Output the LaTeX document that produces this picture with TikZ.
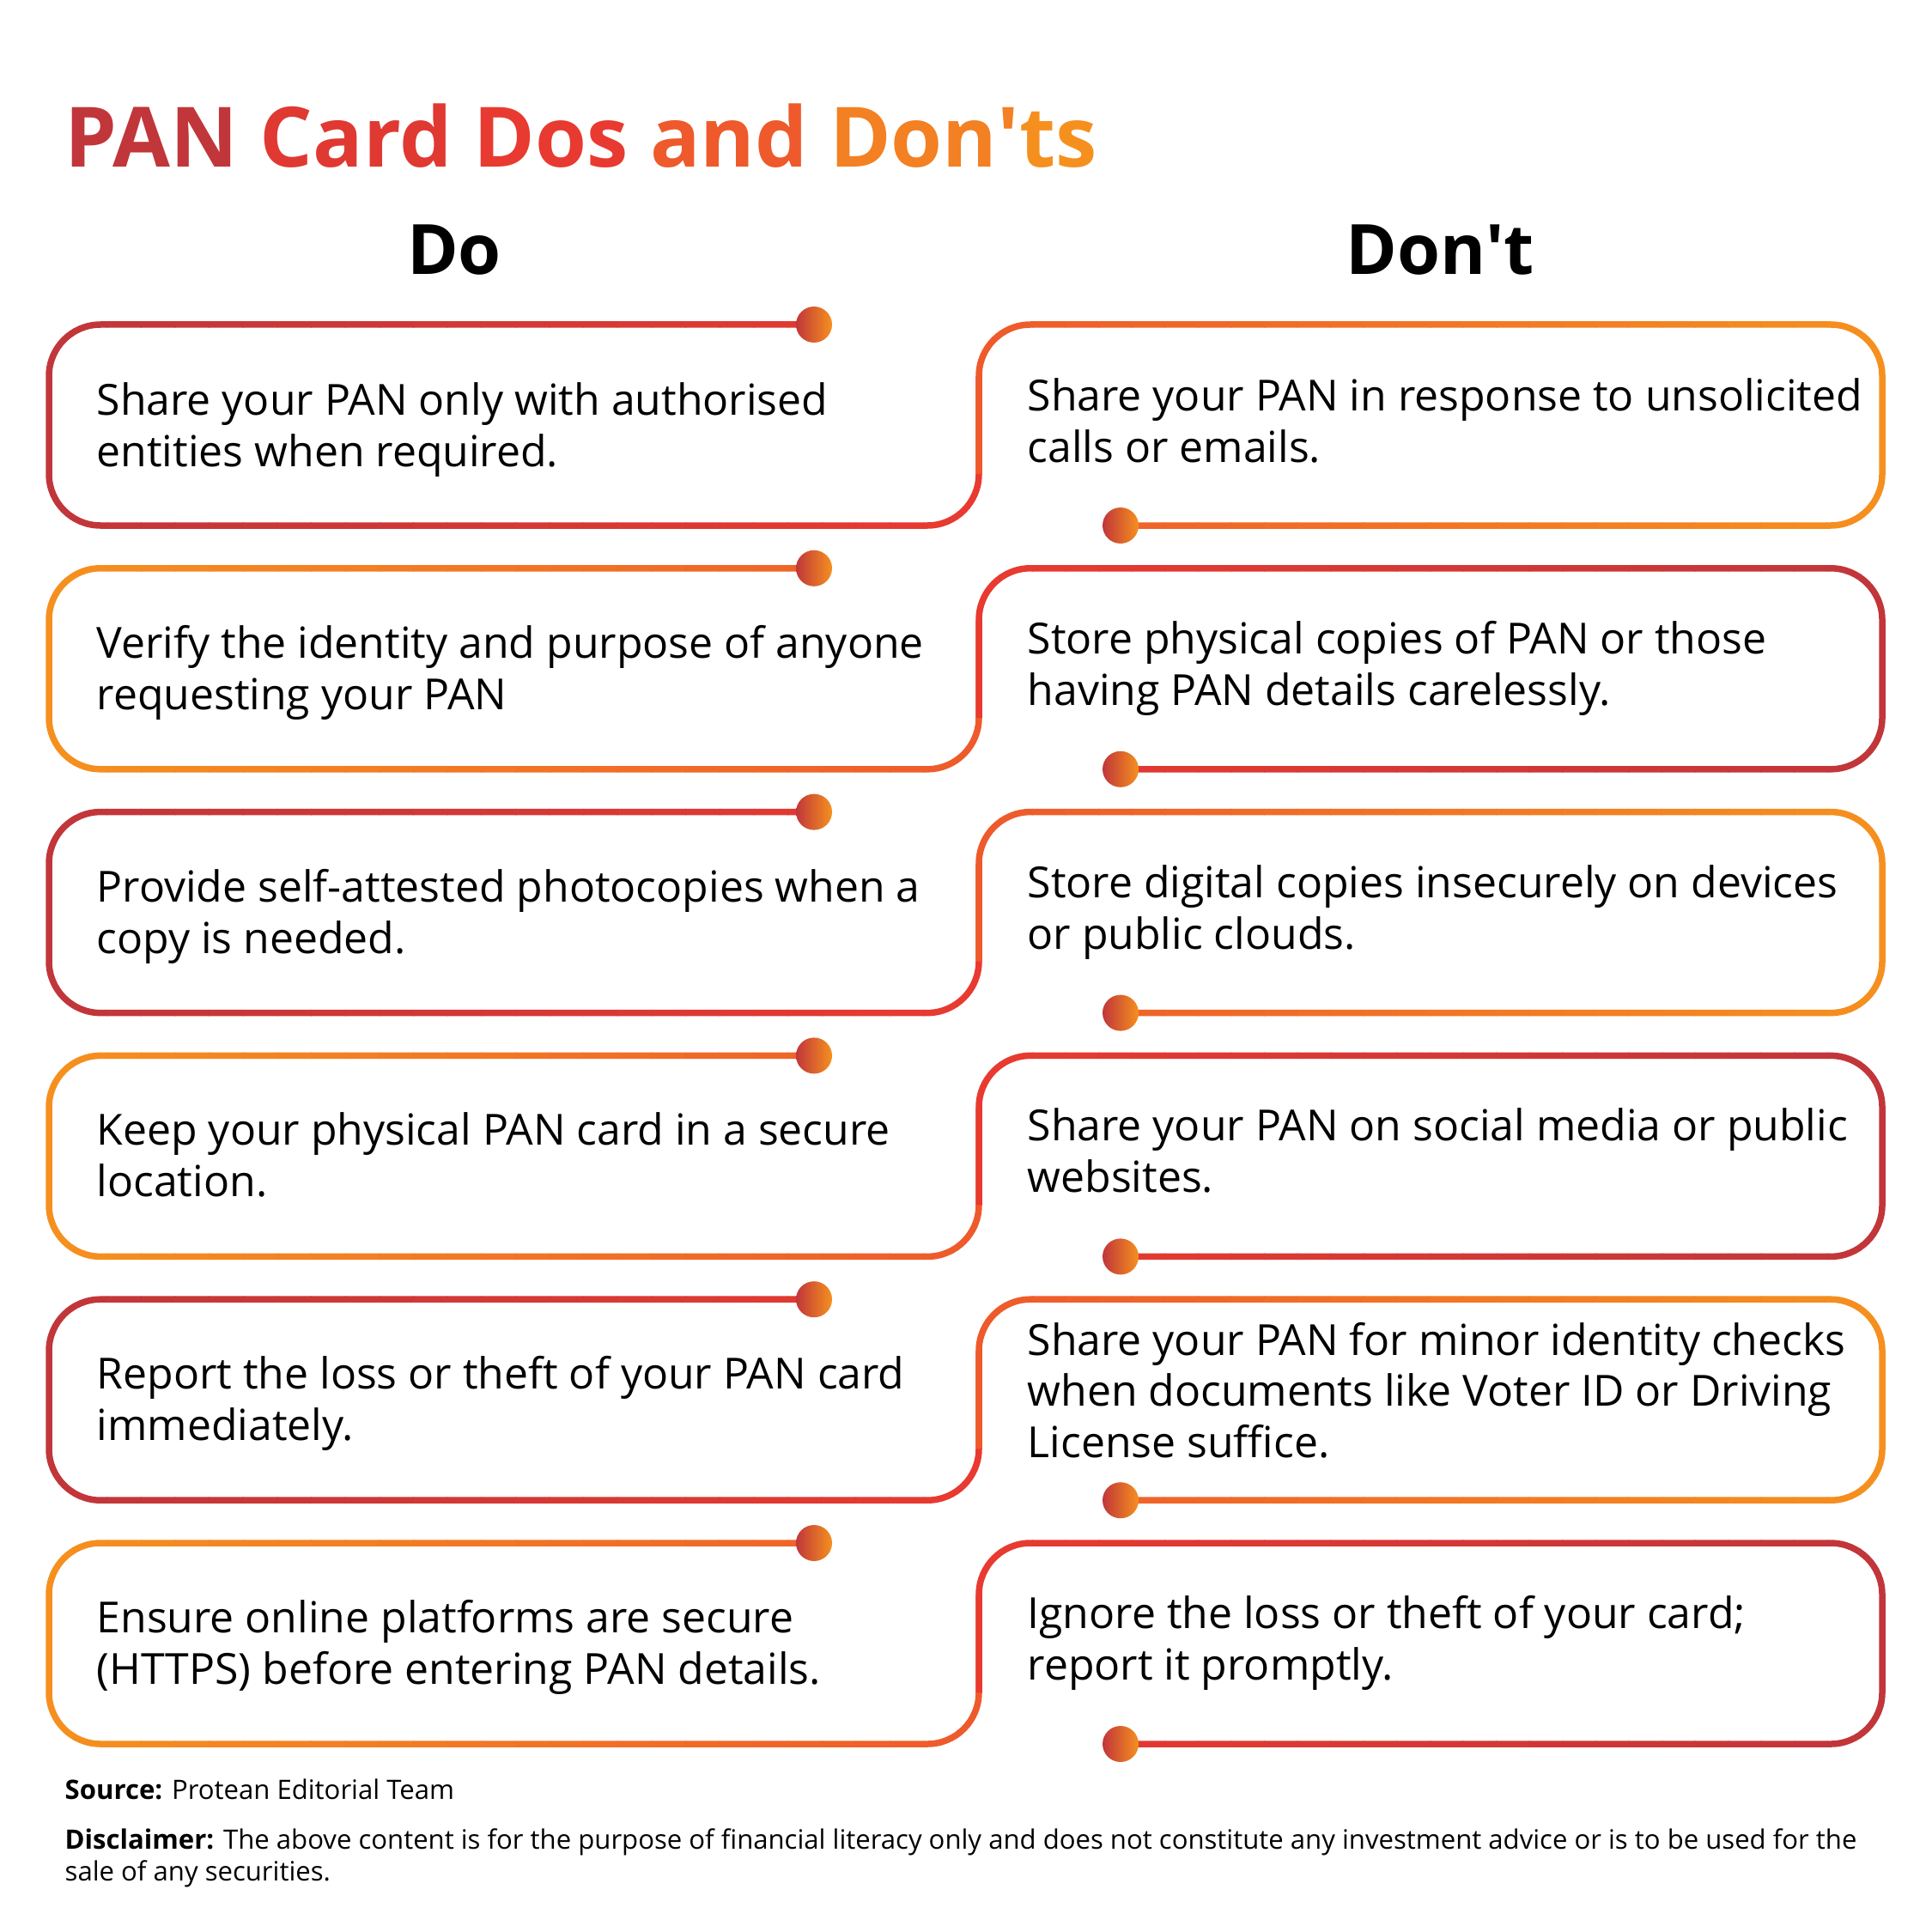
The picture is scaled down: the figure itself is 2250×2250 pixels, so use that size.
\documentclass[tikz,border=0pt]{standalone}
\usepackage{fontspec}
\setmainfont{Open Sans}
\definecolor{dred}{HTML}{C1363A}
\definecolor{red}{HTML}{E83A30}
\definecolor{ored}{HTML}{EE5A2B}
\definecolor{orng}{HTML}{F5901F}
\newcommand\gbox[5]{%
 \foreach \i in {0,...,27}{%
  \pgfmathsetmacro\p{100/27*\i}%
  \pgfmathsetmacro\xa{#1+(#2-#1)/28*\i}%
  \pgfmathsetmacro\xb{#1+(#2-#1)/28*(\i+1)+1}%
  \begin{scope}\clip (\xa,0) rectangle (\xb,2250);
   \draw[line width=.75mm,color=#4!\p!#3,rounded corners=6mm] #5;
  \end{scope}}}
\tikzset{btxt/.style={anchor=base west,align=left,font=\fontsize{14.2}{16.8}\selectfont,inner sep=0pt},
 foot/.style={anchor=base west,align=left,font=\fontsize{8.85}{10.5}\selectfont,inner sep=0pt}}
\begin{document}
\begin{tikzpicture}[x=0.1mm,y=-0.1mm]
\useasboundingbox (0,0) rectangle (2250,2250);
\node[anchor=base west,inner sep=0pt,font=\bfseries\fontsize{27.6}{30}\selectfont] (title) at (75,195)
 {\textcolor{dred}{PAN} \textcolor{red!80!dred}{Card} \textcolor{red}{Dos} \textcolor{ored}{and} \textcolor{orng!70!ored}{Don\textquotesingle}\textcolor{orng}{ts}};
\node[anchor=base,inner sep=0pt,font=\bfseries\fontsize{23}{23}\selectfont] (do) at (529,320) {Do};
\node[anchor=base,inner sep=0pt,font=\bfseries\fontsize{23}{23}\selectfont] (dont) at (1677,320) {Don\textquotesingle t};
\foreach \k in {0,...,5}{%
 \pgfmathsetmacro\T{378+283.8*\k}\pgfmathsetmacro\B{\T+234}\pgfmathsetmacro\Br{\B-60}\pgfmathsetmacro\Tr{\T+60}%
 \ifodd\k
  \gbox{45}{1155}{orng}{ored}{(948,\T) -- (57,\T) -- (57,\B) -- (1140,\B) -- (1140,\Tr)}
  \gbox{1125}{2205}{red}{dred}{(1299,\B) -- (2192,\B) -- (2192,\T) -- (1140,\T) -- (1140,\Br)}
 \else
  \gbox{45}{1155}{dred}{red}{(948,\T) -- (57,\T) -- (57,\B) -- (1140,\B) -- (1140,\Tr)}
  \gbox{1125}{2205}{ored}{orng}{(1299,\B) -- (2192,\B) -- (2192,\T) -- (1140,\T) -- (1140,\Br)}
 \fi
 \shade[left color=dred,right color=orng] (948,\T) circle[radius=2.1mm];
 \shade[left color=dred,right color=orng] (1305,\B) circle[radius=2.1mm];
}
\node[btxt] (l1) at (112,543) {Share your PAN only with authorised\\entities when required.};
\node[btxt] (l2) at (112,826) {Verify the identity and purpose of anyone\\requesting your PAN};
\node[btxt] (l3) at (112,1110) {Provide self-attested photocopies when a\\copy is needed.};
\node[btxt] (l4) at (112,1393) {Keep your physical PAN card in a secure\\location.};
\node[btxt] (l5) at (112,1677) {Report the loss or theft of your PAN card\\immediately.};
\node[btxt] (l6) at (112,1961) {Ensure online platforms are secure\\(HTTPS) before entering PAN details.};
\node[btxt] (r1) at (1196,538) {Share your PAN in response to unsolicited\\calls or emails.};
\node[btxt] (r2) at (1196,821) {Store physical copies of PAN or those\\having PAN details carelessly.};
\node[btxt] (r3) at (1196,1105) {Store digital copies insecurely on devices\\or public clouds.};
\node[btxt] (r4) at (1196,1388) {Share your PAN on social media or public\\websites.};
\node[btxt] (r5) at (1196,1697) {Share your PAN for minor identity checks\\when documents like Voter ID or Driving\\License suffice.};
\node[btxt] (r6) at (1196,1956) {Ignore the loss or theft of your card;\\report it promptly.};
\node[foot] (src) at (75,2095) {\textbf{Source:} Protean Editorial Team};
\node[foot] (disc) at (75,2190) {\textbf{Disclaimer:} The above content is for the purpose of financial literacy only and does not constitute any investment advice or is to be used for the\\sale of any securities.};
\end{tikzpicture}
\end{document}
